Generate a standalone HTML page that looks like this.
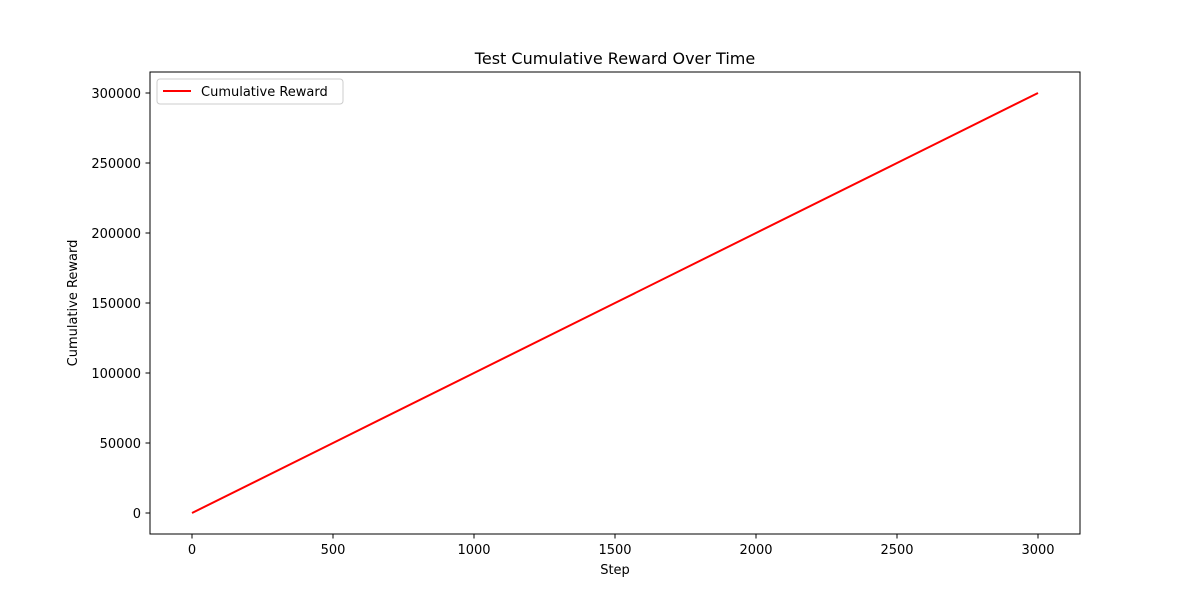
<!DOCTYPE html>
<html><head><meta charset="utf-8"><style>
body{margin:0;background:#fff;}
svg text{font-family:"DejaVu Sans","Liberation Sans",sans-serif;fill:#000;}
</style></head><body>
<svg id="chart" width="1200" height="600">
<rect width="1200" height="600" fill="#fff"/>
<text x="615" y="64" font-size="16" text-anchor="middle">Test Cumulative Reward Over Time</text>
<g id="ticks"></g>
<polyline id="line" fill="none" stroke="#ff0000" stroke-width="2"/>
<rect x="150" y="72" width="930" height="462" fill="none" stroke="#000" stroke-width="1"/>
<text x="615" y="574" font-size="13" text-anchor="middle">Step</text>
<text transform="translate(77,303) rotate(-90)" font-size="13" text-anchor="middle">Cumulative Reward</text>
<g>
<rect x="157" y="79" width="186" height="25" rx="3" fill="#fff" stroke="#ccc"/>
<line x1="163" y1="91" x2="191" y2="91" stroke="#ff0000" stroke-width="2"/>
<text x="201" y="96" font-size="13">Cumulative Reward</text>
</g>
</svg>
<script>
const steps=[0,500,1000,1500,2000,2500,3000];
const rewards=[0,50000,100000,150000,200000,250000,300000];
const xTicks=[0,500,1000,1500,2000,2500,3000];
const yTicks=[0,50000,100000,150000,200000,250000,300000];
const sx=v=>192+v*(846/3000);
const sy=v=>513-v*(420/300000);
const ns="http://www.w3.org/2000/svg";
const g=document.getElementById('ticks');
function mk(t,a){const e=document.createElementNS(ns,t);for(const k in a)e.setAttribute(k,a[k]);g.appendChild(e);return e;}
xTicks.forEach(v=>{
 const l=mk('line',{x1:sx(v),x2:sx(v),y1:534,y2:538.5,stroke:'#000'});
 
 
 const t=mk('text',{x:sx(v),y:554,'font-size':13,'text-anchor':'middle'});t.textContent=v;
 
 
});
yTicks.forEach(v=>{
 const l=mk('line',{x1:145.5,x2:150,y1:sy(v),y2:sy(v),stroke:'#000'});
 
 
 const t=mk('text',{x:141,y:sy(v)+5,'font-size':13,'text-anchor':'end'});t.textContent=v;
 
 
});
document.getElementById('line').setAttribute('points',steps.map((s,i)=>sx(s)+','+sy(rewards[i])).join(' '));
</script>
</body></html>
